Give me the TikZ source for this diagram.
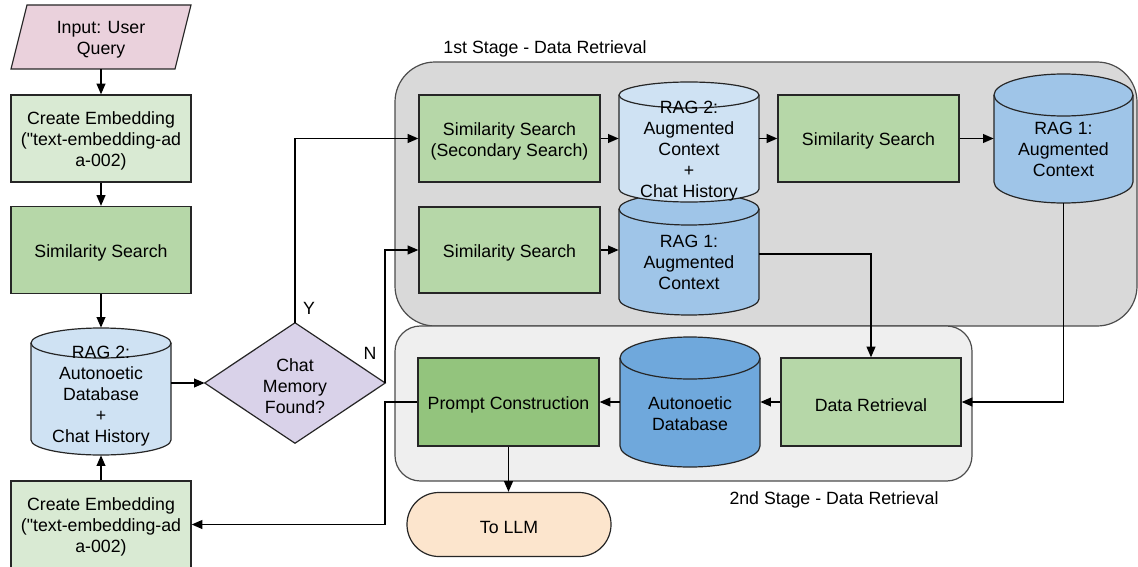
\documentclass[tikz,border=0pt]{standalone}
\usepackage{fontspec}
\setmainfont{Liberation Sans}[Ligatures=TeXOff]
\usetikzlibrary{arrows.meta}
\definecolor{cPink}{HTML}{EAD1DC}
\definecolor{cLG}{HTML}{D9EAD3}
\definecolor{cG}{HTML}{B6D7A8}
\definecolor{cDG}{HTML}{93C47D}
\definecolor{cLB}{HTML}{CFE2F3}
\definecolor{cB}{HTML}{9FC5E8}
\definecolor{cDB}{HTML}{6FA8DC}
\definecolor{cPur}{HTML}{D9D2E9}
\definecolor{cOr}{HTML}{FCE5CD}
\definecolor{stageA}{HTML}{D9D9D9}
\definecolor{stageB}{HTML}{EFEFEF}
\newcommand\mainfnt{\fontsize{13.3}{15.75}\selectfont}
\tikzset{
  shapeline/.style={draw=black!85, line width=0.9pt},
  box/.style={shapeline, inner sep=0pt},
  stagebox/.style={draw=black!70, line width=0.9pt, inner sep=0pt},
  txt/.style={inner sep=0pt, align=center, font=\mainfnt, yshift=-2pt},
  lbl/.style={label={[txt]center:{#1}}},
  conn/.style={line width=1.3pt, -{Triangle[length=8pt,width=6.5pt]}},
  anchorbox/.style={inner sep=0pt, draw=none},
}
% name, x1, y1, x2, y2, ry, fill, text, text y
\newcommand\dbcyl[9]{%
  \pgfmathsetmacro\cylrx{(#4-#2)*0.375}%
  \pgfmathsetmacro\cylry{#6*0.75}%
  \filldraw[shapeline, fill=#7] (#2,#3+#6) -- (#2,#5-#6)
     arc[start angle=180,end angle=360,x radius=\cylrx pt,y radius=\cylry pt]
     -- (#4,#3+#6)
     arc[start angle=0,end angle=180,x radius=\cylrx pt,y radius=\cylry pt] -- cycle;
  \draw[shapeline] (#2,#3+#6) arc[start angle=180,end angle=360,x radius=\cylrx pt,y radius=\cylry pt];
  \node[anchorbox, minimum width={(#4-#2)*0.75pt}, minimum height={(#5-#3)*0.75pt}] (#1) at ({(#2+#4)/2},{(#3+#5)/2}) {};
  \node[txt] (#1txt) at ({(#2+#4)/2},#9) {#8};
}
\begin{document}
\begin{tikzpicture}[x=0.75pt,y=-0.75pt]
\useasboundingbox (0,0) rectangle (1138,567);
% stage containers
\node[stagebox, fill=stageA, rounded corners=30pt, minimum width=556.5pt, minimum height=198pt] (st1) at (766,194) {};
\node[stagebox, fill=stageB, rounded corners=19pt, minimum width=432.75pt, minimum height=116.25pt] (st2) at (683.5,403.5) {};
\node[txt] (lab1) at (545,46) {1st Stage - Data Retrieval};
\node[txt] (lab2) at (834,497) {2nd Stage - Data Retrieval};

% input parallelogram
\node[anchorbox, minimum width=135pt, minimum height=48pt] (inp) at (101,37) {};
\filldraw[shapeline, fill=cPink] (27,5) -- (191,5) -- (175,69) -- (11,69) -- cycle;
\node[txt] (inptxt) at (101,37.5) {Input: User\\Query};

% left column
\node[box, fill=cLG, minimum width=135pt, minimum height=65.25pt, lbl={Create Embedding\\("text-embedding-ad\\a-002)}] (ce1) at (101,138.5) {};
\node[box, fill=cG, minimum width=135pt, minimum height=65.25pt, lbl={Similarity Search}] (ss1) at (101,250) {};
\node[box, fill=cLG, minimum width=135pt, minimum height=65.25pt, lbl={Create Embedding\\("text-embedding-ad\\a-002)}] (ce2) at (101,524.5) {};
\dbcyl{rag2L}{31}{328}{171}{455}{15}{cLB}{RAG 2:\\Autonoetic\\Database\\+\\Chat History}{393.5}

% decision
\node[anchorbox, minimum width=135pt, minimum height=90pt] (dia) at (295,383) {};
\filldraw[shapeline, fill=cPur] (dia.west) -- (dia.north) -- (dia.east) -- (dia.south) -- cycle;
\node[txt] (diatxt) at (295,383) {Chat\\Memory\\Found?};

% stage 1
\node[box, fill=cG, minimum width=135.75pt, minimum height=65.25pt, lbl={Similarity Search\\(Secondary Search)}] (sssec) at (509.5,138.5) {};
\node[box, fill=cG, minimum width=135.75pt, minimum height=65.25pt, lbl={Similarity Search}] (ss2) at (868.5,138.5) {};
\node[box, fill=cG, minimum width=135.75pt, minimum height=64.5pt, lbl={Similarity Search}] (ssb) at (509.5,250) {};
\dbcyl{rag1b}{619}{193}{759}{315}{16}{cB}{RAG 1:\\Augmented\\Context}{259.5}
\dbcyl{rag2a}{619}{82}{759}{202}{13}{cLB}{RAG 2:\\Augmented\\Context\\+\\Chat History}{148}
\dbcyl{rag1a}{994}{74}{1133}{203}{21}{cB}{RAG 1:\\Augmented\\Context}{147}

% stage 2
\node[box, fill=cDG, minimum width=135.75pt, minimum height=66pt, lbl={Prompt Construction}] (pc) at (508.5,402) {};
\node[box, fill=cG, minimum width=135pt, minimum height=66pt, lbl={Data Retrieval}] (dr) at (871,402) {};
\dbcyl{autodb}{620}{337}{760}{467}{21}{cDB}{Autonoetic\\Database}{411}
\node[box, fill=cOr, rounded corners=23.9pt, minimum width=153pt, minimum height=48pt, lbl={To LLM}] (tollm) at (509,524.5) {};

% connectors
\draw[conn] (inp.south) -- (ce1.north);
\draw[conn] (ce1.south) -- (ss1.north);
\draw[conn] (ss1.south) -- (rag2L.north);
\draw[conn] (ce2.north) -- (rag2L.south);
\draw[conn] (rag2L.east |- dia.west) -- (dia.west);
\draw[conn] (dia.north) |- (sssec.west);
\draw[conn] (dia.east) |- (ssb.west);
\draw[conn] (sssec.east) -- (sssec.east -| rag2a.west);
\draw[conn] (rag2a.east |- ss2.west) -- (ss2.west);
\draw[conn] (ss2.east) -- (ss2.east -| rag1a.west);
\draw[conn] (ssb.east) -- (ssb.east -| rag1b.west);
\draw[conn] (rag1b.east) -| (dr.north);
\draw[conn] (rag1a.south) |- (dr.east);
\draw[conn] (dr.west) -- (dr.west -| autodb.east);
\draw[conn] (autodb.west |- pc.east) -- (pc.east);
\draw[conn] (pc.south) -- (pc.south |- tollm.north);
\coordinate (kink) at (385,524.5);
\draw[conn] (pc.west) -| (kink) -- (ce2.east);

% branch labels
\node[txt] (ylab) at (309,306) {Y};
\node[txt] (nlab) at (370,351) {N};
\end{tikzpicture}
\end{document}
